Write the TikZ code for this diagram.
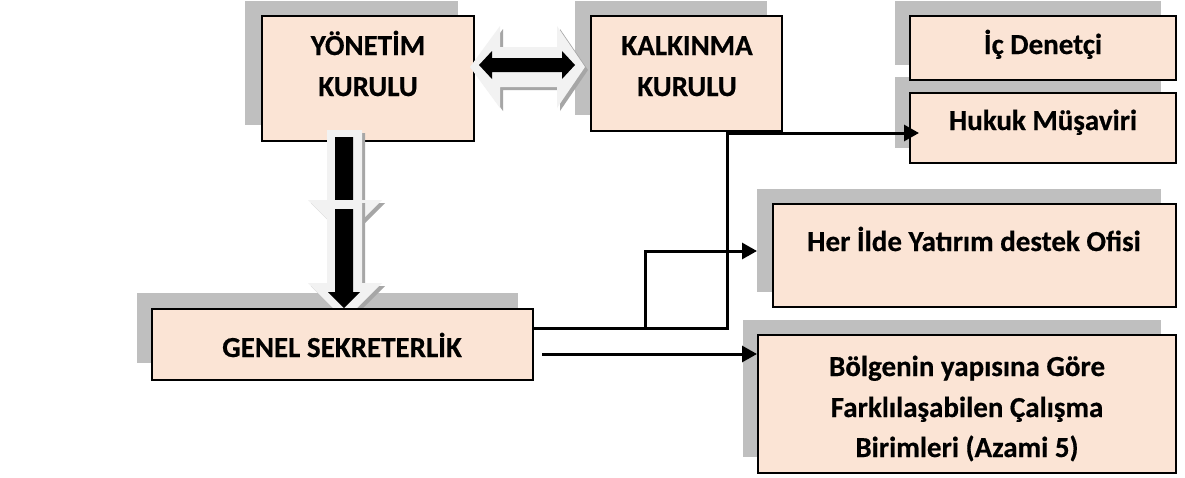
\documentclass[tikz,border=0pt]{standalone}
\usepackage{fontspec}
\setmainfont{Carlito}[BoldFeatures={FakeBold=0.5}]
\usetikzlibrary{arrows.meta,fit}
\definecolor{peach}{HTML}{FBE4D5}
\definecolor{shad}{HTML}{BFBFBF}
\definecolor{lightar}{HTML}{F2F2F2}
\definecolor{arshad}{HTML}{A6A6A6}
\begin{document}
\begin{tikzpicture}[x=1pt,y=-1pt,
  box/.style={draw=black, line width=2pt, fill=peach, inner sep=0pt},
  shadowbox/.style={fill=shad, draw=none, inner sep=0pt},
  lbl/.style={font=\fontsize{29}{41}\selectfont\bfseries, anchor=base, inner sep=0pt},
  conn/.style={line width=3pt},
  arr/.style={conn, -{Triangle[length=15pt,width=16pt]}},
  blockout/.style={fill=lightar},
  blockshadow/.style={fill=arshad},
  blockin/.style={fill=black},
]
\useasboundingbox (0,0) rectangle (1185,477);
\fill[white] (0,0) rectangle (1185,477);

% shadows
\node[shadowbox, fit={(245,1) (458,125)}] (yonS) {};
\node[shadowbox, fit={(575,1) (767,115)}] (kalS) {};
\node[shadowbox, fit={(895,1) (1161,65)}] (icS) {};
\node[shadowbox, fit={(895,77) (1161,148)}] (hukS) {};
\node[shadowbox, fit={(757,189) (1161,292)}] (herS) {};
\node[shadowbox, fit={(743,320) (1161,457)}] (bolS) {};
\node[shadowbox, fit={(137,293) (518,363)}] (genS) {};

% top boxes
\node[box, fit={(262,16) (474,141)}] (yon) {};
\node[box, fit={(591,16) (782,131)}] (kal) {};

% double block arrow
\fill[blockshadow] (473,70) -- (503,29) -- (503,50) -- (560,50) -- (560,29) -- (588,70) -- (560,111) -- (560,90) -- (503,90) -- (503,111) -- cycle;
\fill[blockout] (470,67) -- (500,26) -- (500,47) -- (557,47) -- (557,26) -- (585,67) -- (557,108) -- (557,87) -- (500,87) -- (500,108) -- cycle;
\fill[blockin] (479,65) -- (492,51) -- (492,58) -- (562,58) -- (562,51) -- (575,65) -- (562,79) -- (562,72) -- (492,72) -- (492,79) -- cycle;

% down block arrow, upper part
\fill[blockshadow] (330,133) -- (365,133) -- (365,203) -- (385,203) -- (348,240) -- (311,203) -- (330,203) -- cycle;
\fill[blockout] (327,130) -- (362,130) -- (362,200) -- (382,200) -- (345,237) -- (308,200) -- (327,200) -- cycle;
\fill[blockin] (335,137) -- (353,137) -- (353,200) -- (360,200) -- (344,216) -- (328,200) -- (335,200) -- cycle;
% down block arrow, lower part
\fill[blockshadow] (330,203) -- (365,203) -- (365,286) -- (385,286) -- (348,323) -- (311,286) -- (330,286) -- cycle;
\fill[blockout] (327,200) -- (362,200) -- (362,283) -- (382,283) -- (345,320) -- (308,283) -- (327,283) -- cycle;
\fill[blockin] (335,209) -- (353,209) -- (353,292) -- (360,292) -- (344,308) -- (328,292) -- (335,292) -- cycle;

% other boxes
\node[box, fit={(910,16) (1176,80)}] (ic) {};
\node[box, fit={(910,93) (1176,163)}] (huk) {};
\node[box, fit={(773,204) (1176,307)}] (her) {};
\node[box, fit={(758,335) (1176,473)}] (bol) {};
\node[box, fit={(152,309) (533,380)}] (gen) {};

% connectors
\coordinate (j1) at (727,328);
\coordinate (j2) at (645,328);
\coordinate (hk) at (919,133);
\coordinate (hr) at (757,251);
\coordinate (bs) at (542,354);
\draw[arr] (gen.east |- j1) -- (j1) |- (hk);
\draw[arr] (gen.east |- j2) -- (j2) |- (hr);
\draw[arr] (bs) -- (bol.west |- bs);

% labels
\node[lbl] (yon1) at (368,55) {YÖNETİM};
\node[lbl] (yon2) at (368,96) {KURULU};
\node[lbl] (kal1) at (687,55) {KALKINMA};
\node[lbl] (kal2) at (687,96) {KURULU};
\node[lbl] (ic1) at (1043,54) {İç Denetçi};
\node[lbl] (huk1) at (1043,130) {Hukuk Müşaviri};
\node[lbl] (her1) at (974,251) {Her İlde Yatırım destek Ofisi};
\node[lbl] (gen1) at (342,357) {GENEL SEKRETERLİK};
\node[lbl] (bol1) at (967,376) {Bölgenin yapısına Göre};
\node[lbl] (bol2) at (967,417) {Farklılaşabilen Çalışma};
\node[lbl] (bol3) at (967,457) {Birimleri (Azami 5)};
\end{tikzpicture}
\end{document}
